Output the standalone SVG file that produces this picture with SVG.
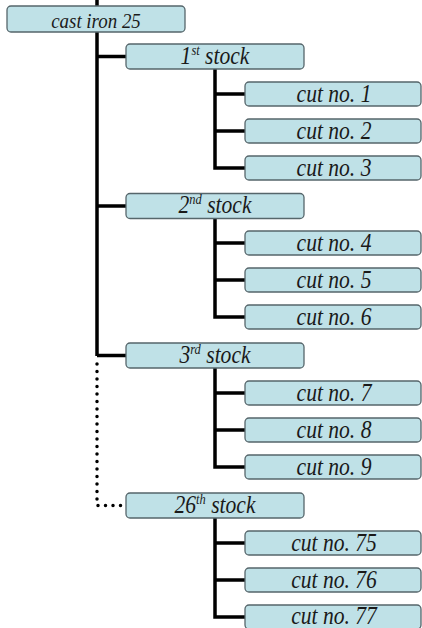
<svg xmlns="http://www.w3.org/2000/svg" width="422" height="628" viewBox="0 0 422 628">
<style>
.box{fill:#bfe1e7;stroke:#56666b;stroke-width:1.3}
.t{font-family:"Times New Roman","Liberation Serif",serif;font-style:italic;font-size:26px;fill:#1a1a1a;text-anchor:middle}
.r{font-size:22px}
.sup{font-size:15px}
.ln{stroke:#000;stroke-width:3.5;fill:none}
.dot{stroke:#000;stroke-width:3.5;fill:none;stroke-dasharray:0 7.5;stroke-linecap:round}
</style>
<rect width="422" height="628" fill="#fff"/>
<g id="connectors">
<path class="ln" d="M97 0V6M97 32V356M97 56.5H126M97 206H126M97 355.5H126"/>
<path class="dot" d="M97 364V505.5H126"/>
<path class="ln" d="M215 69V168H245M215 94H245M215 131H245"/>
<path class="ln" d="M215 218V317H245M215 243H245M215 280H245"/>
<path class="ln" d="M215 368V467H245M215 393H245M215 430H245"/>
<path class="ln" d="M215 518V617H245M215 543H245M215 580H245"/>
</g>
<g id="root"><rect class="box" x="7" y="6" width="178" height="26" rx="4"/><text class="t r" transform="translate(96,27.5) scale(0.86,1)">cast iron 25</text></g>
<g id="stock1"><rect class="box" x="126" y="44" width="178" height="25" rx="4"/><text class="t" transform="translate(215,63.5) scale(0.83,1)">1<tspan class="sup" dy="-9">st</tspan><tspan dy="9"> stock</tspan></text></g>
<g id="cut1"><rect class="box" x="245" y="82" width="176" height="24" rx="4"/><text class="t" transform="translate(334,102) scale(0.83,1)">cut no. 1</text></g>
<g id="cut2"><rect class="box" x="245" y="119" width="176" height="24" rx="4"/><text class="t" transform="translate(334,139) scale(0.83,1)">cut no. 2</text></g>
<g id="cut3"><rect class="box" x="245" y="156" width="176" height="24" rx="4"/><text class="t" transform="translate(334,176) scale(0.83,1)">cut no. 3</text></g>
<g id="stock2"><rect class="box" x="126" y="193.5" width="178" height="25" rx="4"/><text class="t" transform="translate(215,213) scale(0.83,1)">2<tspan class="sup" dy="-9">nd</tspan><tspan dy="9"> stock</tspan></text></g>
<g id="cut4"><rect class="box" x="245" y="231" width="176" height="24" rx="4"/><text class="t" transform="translate(334,251) scale(0.83,1)">cut no. 4</text></g>
<g id="cut5"><rect class="box" x="245" y="268" width="176" height="24" rx="4"/><text class="t" transform="translate(334,288) scale(0.83,1)">cut no. 5</text></g>
<g id="cut6"><rect class="box" x="245" y="305" width="176" height="24" rx="4"/><text class="t" transform="translate(334,325) scale(0.83,1)">cut no. 6</text></g>
<g id="stock3"><rect class="box" x="126" y="343" width="178" height="25" rx="4"/><text class="t" transform="translate(215,362.5) scale(0.83,1)">3<tspan class="sup" dy="-9">rd</tspan><tspan dy="9"> stock</tspan></text></g>
<g id="cut7"><rect class="box" x="245" y="381" width="176" height="24" rx="4"/><text class="t" transform="translate(334,401) scale(0.83,1)">cut no. 7</text></g>
<g id="cut8"><rect class="box" x="245" y="418" width="176" height="24" rx="4"/><text class="t" transform="translate(334,438) scale(0.83,1)">cut no. 8</text></g>
<g id="cut9"><rect class="box" x="245" y="455" width="176" height="24" rx="4"/><text class="t" transform="translate(334,475) scale(0.83,1)">cut no. 9</text></g>
<g id="stock26"><rect class="box" x="126" y="493" width="178" height="25" rx="4"/><text class="t" transform="translate(215,512.5) scale(0.83,1)">26<tspan class="sup" dy="-9">th</tspan><tspan dy="9"> stock</tspan></text></g>
<g id="cut75"><rect class="box" x="245" y="531" width="176" height="24" rx="4"/><text class="t" transform="translate(334,551) scale(0.83,1)">cut no. 75</text></g>
<g id="cut76"><rect class="box" x="245" y="568" width="176" height="24" rx="4"/><text class="t" transform="translate(334,588) scale(0.83,1)">cut no. 76</text></g>
<g id="cut77"><rect class="box" x="245" y="605" width="176" height="24" rx="4"/><text class="t" transform="translate(334,624) scale(0.83,1)">cut no. 77</text></g>
</svg>
